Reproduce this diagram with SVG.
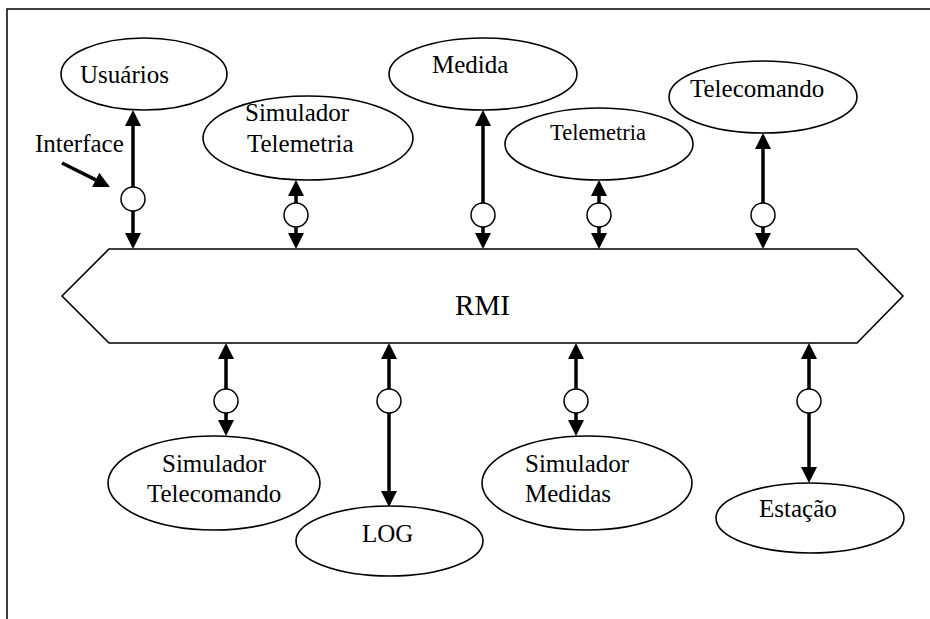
<svg xmlns="http://www.w3.org/2000/svg" width="930" height="619" viewBox="0 0 930 619">
<style>
.bg{fill:#fff}
.frame{fill:none;stroke:#000;stroke-width:1.5}
.node ellipse,.hex{fill:#fff;stroke:#000;stroke-width:1.6}
.lbl{font-family:"Liberation Serif","Times New Roman",serif;font-size:25px;fill:#000}
.small{font-size:22.5px}
.big{font-size:29px}
.conn line{stroke:#000;stroke-width:3.5}
.conn circle{fill:#fff;stroke:#000;stroke-width:1.5}
</style>
<defs>
<marker id="ah" viewBox="0 0 16 16" refX="8" refY="8" markerWidth="16" markerHeight="16" markerUnits="userSpaceOnUse" orient="auto-start-reverse">
<path d="M0,0 L16,8 L0,16 z" fill="#000"/>
</marker>
</defs>
<rect class="bg" x="0" y="0" width="930" height="619"/>
<path class="frame" d="M7,619 V9 H930"/>

<g id="rmi">
<polygon class="hex" points="62,296 109,249 857,249 903,296 857,343 109,343"/>
<text class="lbl big" x="482.5" y="315" text-anchor="middle">RMI</text>
</g>

<g id="usuarios" class="node">
<ellipse cx="144" cy="74" rx="83" ry="36"/>
<text class="lbl" x="80" y="83">Usuários</text>
</g>
<g id="simulador-telemetria" class="node">
<ellipse cx="308" cy="138" rx="105" ry="42"/>
<text class="lbl" x="245" y="121">Simulador</text>
<text class="lbl" x="247" y="152">Telemetria</text>
</g>
<g id="medida" class="node">
<ellipse cx="483" cy="74" rx="94" ry="36"/>
<text class="lbl" x="432" y="73">Medida</text>
</g>
<g id="telemetria" class="node">
<ellipse cx="599" cy="144" rx="94" ry="36"/>
<text class="lbl small" x="550" y="140">Telemetria</text>
</g>
<g id="telecomando" class="node">
<ellipse cx="763" cy="97" rx="94" ry="36"/>
<text class="lbl" x="690" y="97">Telecomando</text>
</g>
<g id="simulador-telecomando" class="node">
<ellipse cx="214" cy="483" rx="106" ry="47"/>
<text class="lbl" x="162" y="472">Simulador</text>
<text class="lbl" x="147" y="502">Telecomando</text>
</g>
<g id="log" class="node">
<ellipse cx="389.5" cy="541" rx="93.5" ry="35"/>
<text class="lbl" x="362" y="542">LOG</text>
</g>
<g id="simulador-medidas" class="node">
<ellipse cx="587" cy="483" rx="105" ry="47"/>
<text class="lbl" x="525" y="472">Simulador</text>
<text class="lbl" x="525" y="502">Medidas</text>
</g>
<g id="estacao" class="node">
<ellipse cx="810" cy="518" rx="94" ry="35"/>
<text class="lbl" x="759" y="517">Estação</text>
</g>

<g id="interface-label">
<text class="lbl" x="35" y="152">Interface</text>
</g>

<g id="connectors" class="conn">
<line x1="62" y1="163" x2="102.8" y2="183.4" marker-end="url(#ah)"/>

<line x1="133" y1="118" x2="133" y2="187" marker-start="url(#ah)"/>
<line x1="133" y1="211" x2="133" y2="241" marker-end="url(#ah)"/>
<circle cx="133" cy="199" r="12"/>

<line x1="296" y1="188" x2="296" y2="203" marker-start="url(#ah)"/>
<line x1="296" y1="227" x2="296" y2="241" marker-end="url(#ah)"/>
<circle cx="296" cy="215" r="12"/>

<line x1="483" y1="118" x2="483" y2="203" marker-start="url(#ah)"/>
<line x1="483" y1="227" x2="483" y2="241" marker-end="url(#ah)"/>
<circle cx="483" cy="215" r="12"/>

<line x1="599" y1="188" x2="599" y2="203" marker-start="url(#ah)"/>
<line x1="599" y1="227" x2="599" y2="241" marker-end="url(#ah)"/>
<circle cx="599" cy="215" r="12"/>

<line x1="763" y1="141" x2="763" y2="203" marker-start="url(#ah)"/>
<line x1="763" y1="227" x2="763" y2="241" marker-end="url(#ah)"/>
<circle cx="763" cy="215" r="12"/>

<line x1="226" y1="351" x2="226" y2="389" marker-start="url(#ah)"/>
<line x1="226" y1="413" x2="226" y2="428" marker-end="url(#ah)"/>
<circle cx="226" cy="401" r="12"/>

<line x1="389" y1="351" x2="389" y2="389" marker-start="url(#ah)"/>
<line x1="389" y1="413" x2="389" y2="499" marker-end="url(#ah)"/>
<circle cx="389" cy="401" r="12"/>

<line x1="576" y1="351" x2="576" y2="389" marker-start="url(#ah)"/>
<line x1="576" y1="413" x2="576" y2="428" marker-end="url(#ah)"/>
<circle cx="576" cy="401" r="12"/>

<line x1="809" y1="351" x2="809" y2="389" marker-start="url(#ah)"/>
<line x1="809" y1="413" x2="809" y2="475" marker-end="url(#ah)"/>
<circle cx="809" cy="401" r="12"/>
</g>
</svg>
